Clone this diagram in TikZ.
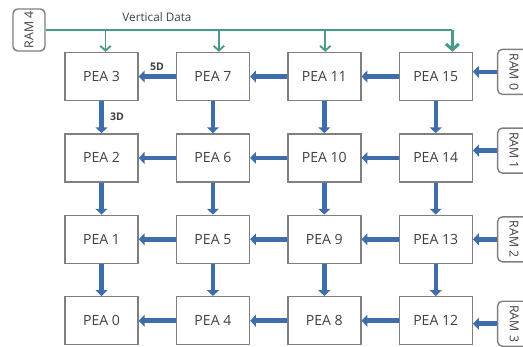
\documentclass[tikz,border=0pt]{standalone}
\usepackage{fontspec}
\setmainfont{Open Sans}
\usepackage{graphicx}
\usetikzlibrary{arrows.meta,positioning}
\definecolor{peablue}{HTML}{3F6DAA}
\definecolor{vteal}{HTML}{4A9A8C}
\definecolor{boxgray}{HTML}{7F7F7F}
\definecolor{txtgray}{HTML}{404040}
\tikzset{
  pea/.style={draw=boxgray,line width=1.2pt,minimum width=2.19cm,minimum height=1.44cm,
    inner sep=0pt,text=txtgray,font=\fontsize{12}{14}\selectfont},
  ram/.style={draw=boxgray,line width=1.2pt,rounded corners=4pt,minimum width=0.99cm,
    minimum height=1.35cm,inner sep=0pt,text=txtgray,font=\fontsize{10.5}{12}\selectfont},
  bus/.style={peablue,line width=3.8pt,-{Triangle[length=5pt,width=10pt]}},
  vline/.style={vteal,line width=1.6pt},
  vdrop/.style={vline,-{Straight Barb[length=4pt,width=9pt,line width=1.6pt]}}
}

\begin{document}
\begin{tikzpicture}[x=0.03cm,y=-0.03cm,node distance=0.96cm and 1.11cm]
  \useasboundingbox (0,0) rectangle (523,347);
  \clip (0,0) rectangle (523,347);
  % PEA grid
  \node[pea] (pea3) at (101.5,76.5) {PEA 3};
  \node[pea,right=of pea3] (pea7) {PEA 7};
  \node[pea,right=of pea7] (pea11) {PEA 11};
  \node[pea,right=of pea11] (pea15) {PEA 15};
  \node[pea,below=of pea3] (pea2) {PEA 2};
  \node[pea,below=of pea7] (pea6) {PEA 6};
  \node[pea,below=of pea11] (pea10) {PEA 10};
  \node[pea,below=of pea15] (pea14) {PEA 14};
  \node[pea,below=of pea2] (pea1) {PEA 1};
  \node[pea,below=of pea6] (pea5) {PEA 5};
  \node[pea,below=of pea10] (pea9) {PEA 9};
  \node[pea,below=of pea14] (pea13) {PEA 13};
  \node[pea,below=of pea1] (pea0) {PEA 0};
  \node[pea,below=of pea5] (pea4) {PEA 4};
  \node[pea,below=of pea9] (pea8) {PEA 8};
  \node[pea,below=of pea13] (pea12) {PEA 12};
  % RAMs
  \node[ram,minimum width=0.96cm,minimum height=1.26cm] (ram4) at (29,30) {\rotatebox{90}{RAM 4}};
  \node[ram,right=0.72cm of pea15,yshift=0.14cm] (ram0) {\rotatebox{-90}{RAM 0}};
  \node[ram,right=0.72cm of pea14,yshift=0.22cm] (ram1) {\rotatebox{-90}{RAM 1}};
  \node[ram,right=0.72cm of pea13] (ram2) {\rotatebox{-90}{RAM 2}};
  \node[ram,right=0.72cm of pea12,yshift=-0.09cm] (ram3) {\rotatebox{-90}{RAM 3}};
  % labels
  \node[text=txtgray,font=\fontsize{10}{12}\selectfont] (lblvd) at (157,17) {Vertical Data};
  \node[text=txtgray,font=\bfseries\fontsize{9}{11}\selectfont] (lbl5d) at (157,67) {5D};
  \node[text=txtgray,font=\bfseries\fontsize{9}{11}\selectfont] (lbl3d) at (117,117) {3D};
  % vertical data bus
  \coordinate (d3) at ([xshift=0.12cm]pea3.north);
  \coordinate (d7) at ([xshift=0.18cm]pea7.north);
  \coordinate (d11) at ([xshift=0.03cm]pea11.north);
  \coordinate (d15) at ([xshift=0.5cm]pea15.north);
  \draw[vline] (ram4.east) -- (ram4.east -| d15);
  \draw[vdrop] (d3 |- ram4.east) -- (d3);
  \draw[vdrop] (d7 |- ram4.east) -- (d7);
  \draw[vdrop] (d11 |- ram4.east) -- (d11);
  \draw[vline,line width=2.6pt,-{Straight Barb[length=5pt,width=11pt,line width=2.6pt]}] (d15 |- ram4.east) -- (d15);
  % horizontal links
  \draw[bus] (pea7.west) -- (pea3.east);
  \draw[bus] (pea11.west) -- (pea7.east);
  \draw[bus] (pea15.west) -- (pea11.east);
  \draw[bus] (pea6.west) -- (pea2.east);
  \draw[bus] (pea10.west) -- (pea6.east);
  \draw[bus] (pea14.west) -- (pea10.east);
  \draw[bus] (pea5.west) -- (pea1.east);
  \draw[bus] (pea9.west) -- (pea5.east);
  \draw[bus] (pea13.west) -- (pea9.east);
  \draw[bus] (pea4.west) -- (pea0.east);
  \draw[bus] (pea8.west) -- (pea4.east);
  \draw[bus] (pea12.west) -- (pea8.east);
  \draw[bus] (ram0.west) -- (ram0.west -| pea15.east);
  \draw[bus] (ram1.west) -- (ram1.west -| pea14.east);
  \draw[bus] (ram2.west) -- (ram2.west -| pea13.east);
  \draw[bus] (ram3.west) -- (ram3.west -| pea12.east);
  % vertical links
  \draw[bus] (pea3.south) -- (pea2.north);
  \draw[bus] (pea2.south) -- (pea1.north);
  \draw[bus] (pea1.south) -- (pea0.north);
  \draw[bus] (pea7.south) -- (pea6.north);
  \draw[bus] (pea6.south) -- (pea5.north);
  \draw[bus] (pea5.south) -- (pea4.north);
  \draw[bus] (pea11.south) -- (pea10.north);
  \draw[bus] (pea10.south) -- (pea9.north);
  \draw[bus] (pea9.south) -- (pea8.north);
  \draw[bus] (pea15.south) -- (pea14.north);
  \draw[bus] (pea14.south) -- (pea13.north);
  \draw[bus] (pea13.south) -- (pea12.north);
\end{tikzpicture}
\end{document}
